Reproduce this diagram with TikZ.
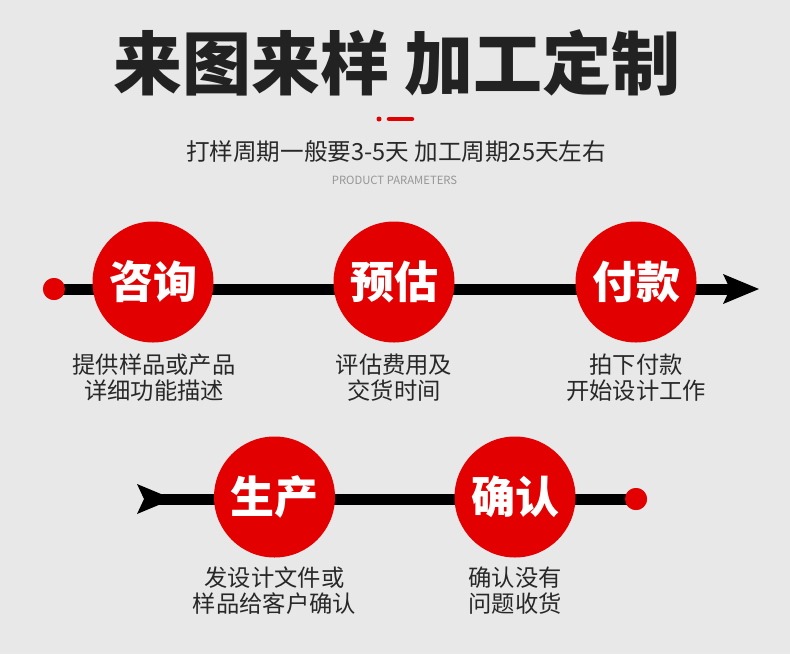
\documentclass[tikz,border=0pt]{standalone}
\usepackage{fontspec}
\newfontfamily\cjk{Noto Sans CJK SC}
\definecolor{bg}{RGB}{232,232,232}
\definecolor{myred}{RGB}{226,0,0}
\definecolor{txt}{RGB}{40,40,40}
\definecolor{ttl}{RGB}{34,34,34}
\definecolor{sub}{RGB}{150,150,150}
\begin{document}
\begin{tikzpicture}[x=1pt,y=-1pt,
  stepcirc/.style={circle,fill=myred,minimum size=121pt,inner sep=0pt,text=white,font=\cjk\bfseries\fontsize{44}{44}\selectfont},
  desc/.style={align=center,text=txt,inner sep=0pt,font=\cjk\fontsize{23.3}{26}\selectfont},
  dotn/.style={circle,fill=myred,minimum size=22pt,inner sep=0pt},
  track/.style={line width=11pt,black},
  headfill/.style={fill=black}
]
\fill[bg] (0,0) rectangle (790,654);
\useasboundingbox (0,0) rectangle (790,654);

% title
\node[text=ttl,inner sep=0pt,font=\cjk\bfseries\fontsize{69}{69}\selectfont] (title) at (397,63) {来图来样 加工定制};
\node[circle,fill=myred,minimum size=5pt,inner sep=0pt] (tdot) at (379,119) {};
\coordinate (dashA) at (389,119);
\coordinate (dashB) at (412,119);
\draw[myred,line width=4.5pt,line cap=round] (dashA) -- (dashB);
\node[text=txt,inner sep=0pt,font=\cjk\fontsize{23.6}{23.6}\selectfont] (subt) at (396,152) {打样周期一般要3-5天 加工周期25天左右};
\node[text=sub,inner sep=0pt,font=\cjk\fontsize{11.3}{11.3}\selectfont] (eng) at (394.5,180) {PRODUCT PARAMETERS};

% top track
\node[dotn] (d1) at (54,289) {};
\coordinate (h1) at (735,289);
\draw[track] (d1.center) -- (h1);
\fill[headfill] (759,289) -- (723,274) -- (730,289) -- (723,304) -- cycle;

% bottom track
\node[dotn] (d2) at (636,499) {};
\coordinate (h2) at (150,499);
\draw[track] (h2) -- (d2.center);
\fill[headfill] (173,499) -- (137,484) -- (144,499) -- (137,514) -- cycle;

% circles
\node[stepcirc] (c1) at (153,282) {咨询};
\node[stepcirc] (c2) at (394,282) {预估};
\node[stepcirc] (c3) at (636,282) {付款};
\node[stepcirc] (c4) at (274.5,497) {生产};
\node[stepcirc] (c5) at (515,497) {确认};
\node[dotn] at (d1) {};
\node[dotn] at (d2) {};

% descriptions
\node[desc] (t1) at (154,377.5) {提供样品或产品\\详细功能描述};
\node[desc] (t2) at (394,377.5) {评估费用及\\交货时间};
\node[desc] (t3) at (636,377.5) {拍下付款\\开始设计工作};
\node[desc] (t4) at (274.5,591) {发设计文件或\\样品给客户确认};
\node[desc] (t5) at (515,591) {确认没有\\问题收货};
\end{tikzpicture}
\end{document}
